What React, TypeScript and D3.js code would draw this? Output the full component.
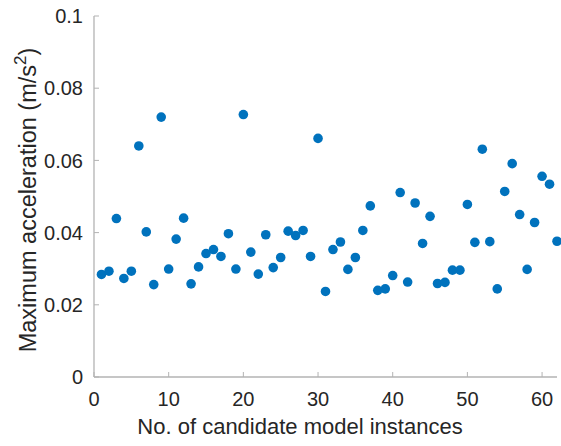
import React from 'react';
import * as d3 from 'd3';

// values, one per candidate model instance (1..62)
const accel = [
  0.0284, 0.0293, 0.0439, 0.0273, 0.0293, 0.0640, 0.0402, 0.0256, 0.0720, 0.0299,
  0.0382, 0.0440, 0.0258, 0.0305, 0.0342, 0.0353, 0.0334, 0.0397, 0.0299, 0.0727,
  0.0346, 0.0285, 0.0394, 0.0303, 0.0331, 0.0404, 0.0392, 0.0406, 0.0334, 0.0661,
  0.0237, 0.0353, 0.0374, 0.0298, 0.0331, 0.0406, 0.0474, 0.0240, 0.0244, 0.0281,
  0.0511, 0.0263, 0.0482, 0.0370, 0.0445, 0.0259, 0.0262, 0.0296, 0.0296, 0.0478,
  0.0373, 0.0631, 0.0375, 0.0244, 0.0514, 0.0591, 0.0450, 0.0298, 0.0428, 0.0556,
  0.0534, 0.0376,
];
const xTicks = [0, 10, 20, 30, 40, 50, 60];
const yTicks = [0, 0.02, 0.04, 0.06, 0.08, 0.1];

const W = 561;
const H = 446;
const left = 94;
const right = 557;
const top = 16;
const bottom = 377;
const axisColor = '#b3b3b3';
const textColor = '#262626';
const font = 'Liberation Sans, Arial, sans-serif';

export default function App() {
  const x = d3.scaleLinear().domain([0, 62]).range([left, right]);
  const y = d3.scaleLinear().domain([0, 0.1]).range([bottom, top]);
  const pts = accel.map((v, i) => ({ n: i + 1, v }));

  return (
    <svg width={W} height={H} style={{ position: 'absolute', left: 0, top: 0 }} fontFamily={font}>
      <rect width={W} height={H} fill="white" />
      {/* axes */}
      <line x1={left} x2={left} y1={top} y2={bottom} stroke={axisColor} strokeWidth={1.3} />
      <line x1={left} x2={right} y1={bottom} y2={bottom} stroke={axisColor} strokeWidth={1.3} />
      {xTicks.map(t => (
        <g key={t} transform={`translate(${x(t)},${bottom})`}>
          <line y2={-5} stroke={axisColor} />
          <text y={29} textAnchor="middle" fontSize={20} fill={textColor}>{t}</text>
        </g>
      ))}
      {yTicks.map(t => (
        <g key={t} transform={`translate(${left},${y(t)})`}>
          <line x2={5} stroke={axisColor} />
          <text x={-11} dy="0.36em" textAnchor="end" fontSize={20} fill={textColor}>
            {t === 0 ? '0' : d3.format('')(t)}
          </text>
        </g>
      ))}
      {pts.map(d => (
        <circle key={d.n} cx={x(d.n)} cy={y(d.v)} r={4.8} fill="#0072BD" />
      ))}
      <text x={300} y={434} textAnchor="middle" fontSize={22} fill={textColor}>
        No. of candidate model instances
      </text>
      <text transform={`translate(36,200) rotate(-90)`} textAnchor="middle" fontSize={23.5} fill={textColor}>
        Maximum acceleration (m/s
        <tspan dy={-10} fontSize={17}>2</tspan>
        <tspan dy={10}>)</tspan>
      </text>
    </svg>
  );
}
